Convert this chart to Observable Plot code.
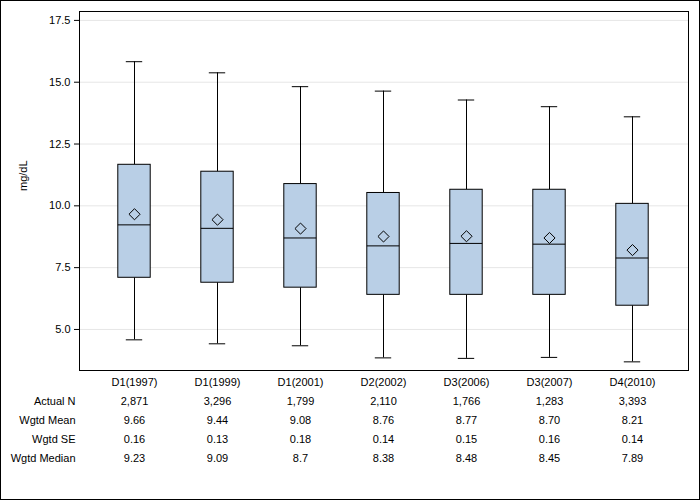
<!DOCTYPE html>
<html>
<head>
<meta charset="utf-8">
<script src="https://cdn.jsdelivr.net/npm/d3@7"></script>
<script src="https://cdn.jsdelivr.net/npm/@observablehq/plot@0.6"></script>
<style>
  html, body { margin: 0; padding: 0; background: #fff; }
  #chart svg { display: block; outline: 1px solid #000; outline-offset: -1px; }
</style>
</head>
<body>
<div id="chart"></div>
<script>
const categories = ["D1(1997)","D1(1999)","D1(2001)","D2(2002)","D3(2006)","D3(2007)","D4(2010)"];
const whiskerLow  = [4.58, 4.42, 4.34, 3.85, 3.83, 3.87, 3.69];
const q1          = [7.09, 6.89, 6.69, 6.40, 6.40, 6.40, 5.96];
const median      = [9.23, 9.09, 8.7, 8.38, 8.48, 8.45, 7.89];
const mean        = [9.66, 9.44, 9.08, 8.76, 8.77, 8.70, 8.21];
const q3          = [11.66, 11.38, 10.88, 10.52, 10.65, 10.65, 10.08];
const whiskerHigh = [15.83, 15.38, 14.82, 14.64, 14.28, 14.01, 13.60];
const actualN     = ["2,871","3,296","1,799","2,110","1,766","1,283","3,393"];
const wgtdSE      = [0.16, 0.13, 0.18, 0.14, 0.15, 0.16, 0.14];
const yTicks      = [5, 7.5, 10, 12.5, 15, 17.5];
const rowLabels   = ["Actual N", "Wgtd Mean", "Wgtd SE", "Wgtd Median"];

const data = categories.map((c, i) => ({
  cat: c, lo: whiskerLow[i], q1: q1[i], med: median[i], mean: mean[i],
  q3: q3[i], hi: whiskerHigh[i], n: actualN[i], se: wgtdSE[i]
}));

const font = "'Liberation Sans', Arial, sans-serif";
const bw = 56.6;
const boxInset = (bw - 33) / 2;
const capInset = (bw - 17) / 2;

const rowDy = [34, 53, 72, 91];
const rowVals = [
  d => d.n,
  d => d.mean.toFixed(2),
  d => d.se.toFixed(2),
  d => String(d.med)
];

const marks = [
  Plot.ruleY(yTicks, {stroke: "#e6e6e6", strokeWidth: 1}),
  Plot.ruleX(data, {x: "cat", y1: "lo", y2: "q1", stroke: "black"}),
  Plot.ruleX(data, {x: "cat", y1: "q3", y2: "hi", stroke: "black"}),
  Plot.tickY(data, {x: "cat", y: "lo", stroke: "black", insetLeft: capInset, insetRight: capInset}),
  Plot.tickY(data, {x: "cat", y: "hi", stroke: "black", insetLeft: capInset, insetRight: capInset}),
  Plot.barY(data, {x: "cat", y1: "q1", y2: "q3", fill: "#b9cfe6", stroke: "black", strokeWidth: 1, insetLeft: boxInset, insetRight: boxInset}),
  Plot.tickY(data, {x: "cat", y: "med", stroke: "black", insetLeft: boxInset, insetRight: boxInset}),
  Plot.dot(data, {x: "cat", y: "mean", symbol: "diamond2", r: 5, stroke: "black", fill: "none", strokeWidth: 1}),
  Plot.frame({stroke: "black"}),
  Plot.axisY({ticks: yTicks, tickFormat: d => d.toFixed(1), tickSize: 5, tickPadding: 4, fontSize: 11, label: null}),
  Plot.text(["mg/dL"], {frameAnchor: "left", dx: -56, rotate: -90, fontSize: 11, fill: "black"}),
  Plot.text(data, {x: "cat", text: "cat", frameAnchor: "bottom", dy: 15, fontSize: 11, fill: "black"})
];
rowLabels.forEach((lab, r) => {
  marks.push(Plot.text(data, {x: "cat", text: rowVals[r], frameAnchor: "bottom", dy: rowDy[r], fontSize: 11, fill: "black"}));
  marks.push(Plot.text([lab], {frameAnchor: "bottom-left", dx: -4, dy: rowDy[r], textAnchor: "end", fontSize: 11, fill: "black"}));
});

const chart = Plot.plot({
  width: 700,
  height: 500,
  marginLeft: 79,
  marginRight: 12,
  marginTop: 11,
  marginBottom: 130,
  style: {fontFamily: font, fontSize: "11px", color: "black", background: "white"},
  x: {type: "band", domain: categories, padding: 0.32, axis: null},
  y: {domain: [3.34, 17.86], axis: null},
  marks
});
document.getElementById("chart").appendChild(chart);
</script>
</body>
</html>
